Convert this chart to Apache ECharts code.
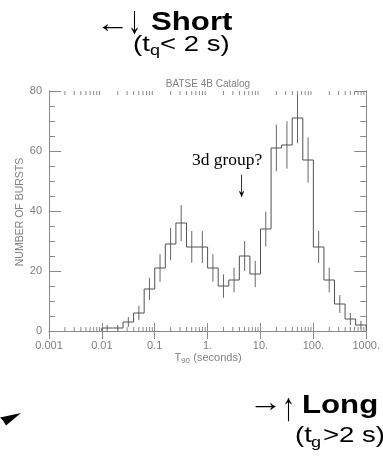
<!DOCTYPE html>
<html><head><meta charset="utf-8">
<script src="https://cdn.jsdelivr.net/npm/echarts@6/dist/echarts.min.js"></script>
<style>html,body{margin:0;padding:0;background:#fff}#c{width:383px;height:461px}</style>
</head><body><div id="c"></div>
<script>
// ---- data ----
const binLowLog = [-2.0,-1.8,-1.6,-1.4,-1.2,-1.0,-0.8,-0.6,-0.4,-0.2,0.0,0.2,0.4,0.6,0.8,1.0,1.2,1.4,1.6,1.8,2.0,2.2,2.4,2.6,2.8];
const counts    = [1,1,3,6,14,21,29,36,28,28,21,15,17,25,19,34,61,62,71,57,28,17,9,4,2];
const errors    = [1,1,1.7,2.4,3.7,4.6,5.4,6,5.3,5.3,4.6,3.9,4.1,5,4.4,5.8,7.8,7.9,8.4,7.5,5.3,4.1,3,2,1.4];
const binWidthLog = 0.2;
const xTickLabels = ['0.001','0.01','0.1','1.','10.','100.','1000.'];
const xMin = 0.001, xMax = 1000;
const yMin = 0, yMax = 80, yStep = 20;
const minorMultipliers = [2,3,4,5,6,7,8,9];

// ---- derived ----
const histData = [[Math.pow(10, binLowLog[0]), 0]];
binLowLog.forEach((lo, i) => {
  histData.push([Math.pow(10, lo), counts[i]]);
  histData.push([Math.pow(10, lo + binWidthLog), counts[i]]);
});
histData.push([Math.pow(10, binLowLog[binLowLog.length-1] + binWidthLog), 0]);

const errData = binLowLog.map((lo, i) => [Math.pow(10, lo + binWidthLog/2), counts[i]-errors[i], counts[i]+errors[i]]);

const minorTicks = [];
for (let k = -3; k < 3; k++) minorMultipliers.forEach(m => minorTicks.push([m*Math.pow(10,k), 0]));

const AX = '#8a8a8a';
const LBL = '#808080';
const chart = echarts.init(document.getElementById('c'), null, {renderer:'canvas'});
const bigFont = 'bold 26px "Liberation Sans", Arial, sans-serif';
const midFont = '22px "Liberation Sans", Arial, sans-serif';
const subFont = '15px "Liberation Sans", Arial, sans-serif';
const arrowFont = '26px "Liberation Sans", "DejaVu Sans", sans-serif';

chart.setOption({
  animation: false,
  grid: {left: 49, right: 15, top: 91, bottom: 130},
  xAxis: [{
    type: 'log', logBase: 10, min: xMin, max: xMax, splitNumber: 6,
    axisLine: {show: true, lineStyle: {color: AX, width: 1}},
    axisTick: {show: true, inside: true, length: 8, lineStyle: {color: AX}},
    splitLine: {show: false},
    axisLabel: {color: LBL, fontSize: 11, fontFamily: '"Liberation Sans", Arial, sans-serif', margin: 9,
      formatter: v => xTickLabels[Math.round(Math.log10(v)) + 3]}
  }, {
    type: 'log', logBase: 10, min: xMin, max: xMax, splitNumber: 6, position: 'top',
    axisLine: {show: true, lineStyle: {color: AX, width: 1}},
    axisTick: {show: true, inside: true, length: 8, lineStyle: {color: AX}},
    splitLine: {show: false}, axisLabel: {show: false}
  }],
  yAxis: [{
    type: 'value', min: yMin, max: yMax, interval: yStep,
    axisLine: {show: true, lineStyle: {color: AX, width: 1}},
    axisTick: {show: true, inside: true, length: 12, lineStyle: {color: AX}},
    minorTick: {show: true, splitNumber: 4, length: 6, lineStyle: {color: AX}},
    splitLine: {show: false},
    axisLabel: {color: LBL, fontSize: 11, fontFamily: '"Liberation Sans", Arial, sans-serif', margin: 7}
  }, {
    type: 'value', min: yMin, max: yMax, interval: yStep, position: 'right',
    axisLine: {show: true, lineStyle: {color: AX, width: 1}},
    axisTick: {show: true, inside: true, length: 12, lineStyle: {color: AX}},
    minorTick: {show: true, splitNumber: 4, length: 6, lineStyle: {color: AX}},
    splitLine: {show: false}, axisLabel: {show: false}
  }],
  series: [{
    type: 'line', data: histData, xAxisIndex: 0, yAxisIndex: 0,
    showSymbol: false, symbol: 'none', silent: true,
    lineStyle: {color: '#505050', width: 1}
  }, {
    type: 'custom', data: errData, xAxisIndex: 0, yAxisIndex: 0, silent: true,
    encode: {x: 0, y: [1, 2]},
    renderItem: (params, api) => {
      const a = api.coord([api.value(0), api.value(1)]);
      const b = api.coord([api.value(0), api.value(2)]);
      return {type: 'line', shape: {x1: a[0], y1: a[1], x2: b[0], y2: b[1]},
        style: {stroke: '#666', lineWidth: 1}};
    }
  }, {
    type: 'custom', data: minorTicks, xAxisIndex: 0, yAxisIndex: 0, silent: true,
    encode: {x: 0, y: 1},
    renderItem: (params, api) => {
      const b = api.coord([api.value(0), yMin]);
      const t = api.coord([api.value(0), yMax]);
      return {type: 'group', children: [
        {type: 'line', shape: {x1: b[0], y1: b[1], x2: b[0], y2: b[1]-4}, style: {stroke: AX, lineWidth: 1}},
        {type: 'line', shape: {x1: t[0], y1: t[1], x2: t[0], y2: t[1]+4}, style: {stroke: AX, lineWidth: 1}}
      ]};
    }
  }],
  graphic: [
    {type: 'text', x: 208, y: 84, style: {text: 'BATSE 4B Catalog', font: '10px "Liberation Sans", Arial, sans-serif', fill: LBL, align: 'center', verticalAlign: 'middle'}},
    {type: 'text', x: 20, y: 212, rotation: Math.PI/2, style: {text: 'NUMBER OF BURSTS', font: '10.5px "Liberation Sans", Arial, sans-serif', fill: LBL, align: 'center', verticalAlign: 'middle'}},
    {type: 'text', x: 208, y: 358, style: {
      text: '{t|T}{s|90} {t|(seconds)}', align: 'center', verticalAlign: 'middle', fill: LBL,
      rich: {t: {font: '11px "Liberation Sans", Arial, sans-serif', fill: LBL, verticalAlign: 'middle'},
             s: {font: '8px "Liberation Sans", Arial, sans-serif', fill: LBL, padding: [5,0,0,0], verticalAlign: 'middle'}}}},
    // top annotation
    {type: 'text', x: 96, y: 25, scaleX: 1.3, style: {text: '←', font: arrowFont, fill: '#000', align: 'left', verticalAlign: 'middle'}},
    {type: 'text', x: 128, y: 22, scaleY: 1.5, style: {text: '↓', font: arrowFont, fill: '#000', align: 'left', verticalAlign: 'middle'}},
    {type: 'text', x: 151, y: 22.5, scaleX: 1.2, style: {text: 'Short', font: bigFont, fill: '#000', align: 'left', verticalAlign: 'middle'}},
    {type: 'text', x: 133, y: 45, scaleX: 1.25, style: {text: '(t', font: midFont, fill: '#000', align: 'left', verticalAlign: 'middle'}},
    {type: 'text', x: 150, y: 51, scaleX: 1.2, style: {text: 'q', font: subFont, fill: '#000', align: 'left', verticalAlign: 'middle'}},
    {type: 'text', x: 160, y: 45, scaleX: 1.25, style: {text: '< 2 s)', font: midFont, fill: '#000', align: 'left', verticalAlign: 'middle'}},
    // 3d group
    {type: 'text', x: 192, y: 160.5, scaleX: 1.09, style: {text: '3d group?', font: '16px "Liberation Serif", "Times New Roman", serif', fill: '#000', align: 'left', verticalAlign: 'middle'}},
    {type: 'text', x: 241.5, y: 186.5, scaleY: 1.9, style: {text: '↓', font: '20px "Liberation Serif", "DejaVu Serif", serif', fill: '#000', align: 'center', verticalAlign: 'middle'}},
    // bottom annotation
    {type: 'text', x: 249, y: 404, scaleX: 1.3, style: {text: '→', font: arrowFont, fill: '#000', align: 'left', verticalAlign: 'middle'}},
    {type: 'text', x: 282, y: 409, scaleY: 1.5, style: {text: '↑', font: arrowFont, fill: '#000', align: 'left', verticalAlign: 'middle'}},
    {type: 'text', x: 302, y: 405.8, scaleX: 1.2, style: {text: 'Long', font: bigFont, fill: '#000', align: 'left', verticalAlign: 'middle'}},
    {type: 'text', x: 295, y: 436, scaleX: 1.25, style: {text: '(t', font: midFont, fill: '#000', align: 'left', verticalAlign: 'middle'}},
    {type: 'text', x: 311, y: 443, scaleX: 1.2, style: {text: 'g', font: subFont, fill: '#000', align: 'left', verticalAlign: 'middle'}},
    {type: 'text', x: 323, y: 436, scaleX: 1.25, style: {text: '>2 s)', font: midFont, fill: '#000', align: 'left', verticalAlign: 'middle'}},
    // partial arrowhead at lower left
    {type: 'polygon', shape: {points: [[21,413],[0,417.5],[3,420.5],[6,425.5]]}, style: {fill: '#000'}}
  ]
});
</script></body></html>
